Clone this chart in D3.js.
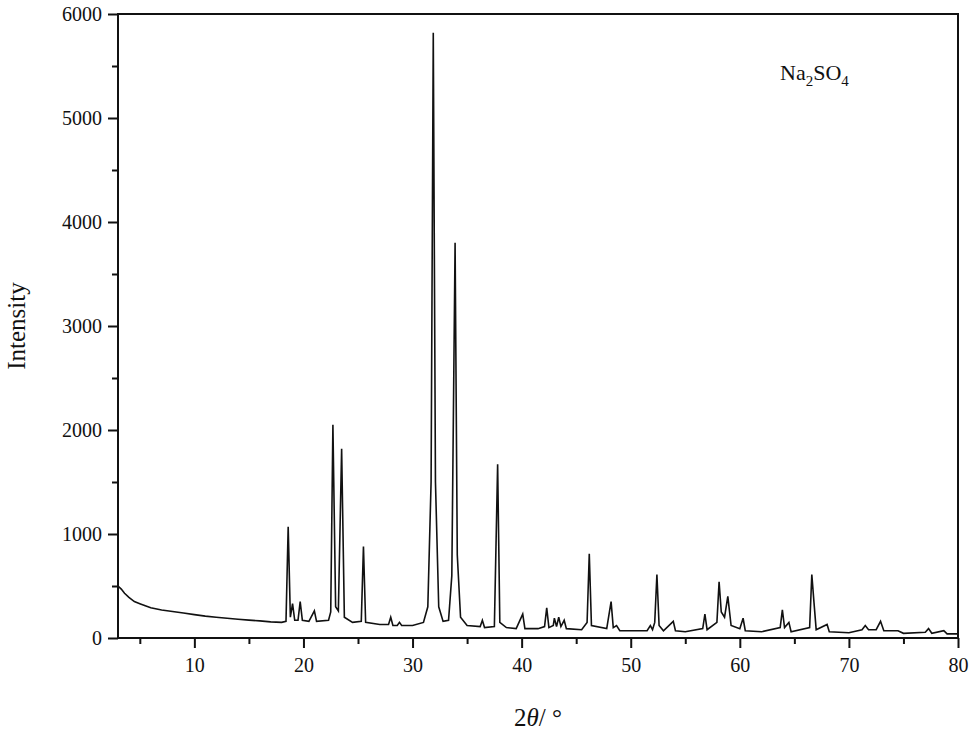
<!DOCTYPE html>
<html><head><meta charset="utf-8">
<script src="https://cdn.jsdelivr.net/npm/d3@7"></script>
<style>body{margin:0;background:#fff}svg text{font-family:'Liberation Serif','Times New Roman',serif !important;fill:#111}</style>
</head><body><svg id="c" width="971" height="734"></svg>
<script>
// XRD pattern: 2theta and intensity
var twoTheta = [3,3.3,3.6,4,4.5,5,5.5,6,7,8,9,10,11,12,13,14,15,16,17,18,18.4,18.6,18.8,19.0,19.2,19.5,19.7,19.9,20.5,21.0,21.2,22.3,22.5,22.7,22.95,23.2,23.5,23.75,24.5,25.3,25.5,25.7,27,27.8,28.0,28.2,28.6,28.8,29.0,30,31,31.4,31.7,31.9,32.1,32.4,32.8,33.3,33.6,33.9,34.1,34.4,35,36.2,36.4,36.6,37.5,37.8,38.0,38.6,39.5,40.1,40.3,41.5,42.1,42.3,42.5,42.9,43.0,43.2,43.4,43.6,43.9,44.1,45.5,46.0,46.2,46.4,47.8,48.2,48.4,48.7,49,51.5,51.8,52.0,52.2,52.4,52.6,53,53.9,54.1,55,56.6,56.8,57.0,57.9,58.1,58.3,58.6,58.9,59.2,60.0,60.3,60.5,62,63.7,63.9,64.1,64.5,64.7,66.4,66.6,66.8,67.0,68.0,68.2,70,71.2,71.5,71.8,72.5,72.9,73.2,74.5,75,77,77.3,77.6,78.7,79,80];
var intensity = [500,470,430,390,350,330,310,290,270,255,240,225,210,200,190,180,172,165,155,150,160,1070,200,330,170,170,350,170,160,260,160,170,250,2050,300,260,1820,200,150,160,880,150,130,130,200,120,120,150,120,120,150,300,1500,5820,1500,300,160,170,600,3800,800,200,120,110,170,100,110,1670,150,100,90,230,90,90,110,290,100,120,190,110,200,110,170,90,80,150,810,120,90,350,100,120,70,70,120,80,150,610,120,70,160,70,60,90,230,80,150,540,250,200,400,120,90,190,70,60,100,270,100,150,60,100,610,340,80,130,60,50,80,120,80,80,160,70,70,45,55,90,45,70,40,40];
var xTicks = [10,20,30,40,50,60,70,80];
var yTicks = [0,1000,2000,3000,4000,5000,6000];

var svg = d3.select("#c");
var L = 118, R = 958, T = 14, B = 638;
var x = d3.scaleLinear().domain([3, 80]).range([L, R]);
var y = d3.scaleLinear().domain([0, 6000]).range([B, T]);

svg.append("rect").attr("x", L).attr("y", T).attr("width", R - L).attr("height", B - T)
    .attr("fill", "none").attr("stroke", "#111").attr("stroke-width", 2);

svg.append("g").attr("transform", "translate(0," + B + ")")
    .call(d3.axisBottom(x).tickValues(xTicks).tickSize(10).tickPadding(10).tickFormat(d3.format("d")));
svg.append("g").attr("transform", "translate(0," + B + ")")
    .call(d3.axisBottom(x).tickValues(d3.range(5, 80, 10)).tickSize(6).tickFormat(""));
svg.append("g").attr("transform", "translate(" + L + ",0)")
    .call(d3.axisLeft(y).tickValues(yTicks).tickSize(10).tickPadding(6).tickFormat(d3.format("d")));
svg.append("g").attr("transform", "translate(" + L + ",0)")
    .call(d3.axisLeft(y).tickValues(d3.range(500, 6000, 1000)).tickSize(6).tickFormat(""));
svg.selectAll(".domain").remove();
svg.selectAll("g").attr("font-family", "'Liberation Serif', serif").attr("font-size", 20);
svg.selectAll(".tick line").attr("stroke", "#111").attr("stroke-width", 2);
svg.selectAll(".tick text").attr("fill", "#111");

var pts = twoTheta.map(function(t, i) { return [t, intensity[i]]; });
svg.append("path").datum(pts)
    .attr("fill", "none").attr("stroke", "#111").attr("stroke-width", 1.6)
    .attr("d", d3.line().x(function(d) { return x(d[0]); }).y(function(d) { return y(d[1]); }));

var lbl = svg.append("text").attr("x", 780).attr("y", 80).style("font-size", "22px");
lbl.append("tspan").text("Na");
lbl.append("tspan").attr("dy", 6).style("font-size", "15px").text("2");
lbl.append("tspan").attr("dy", -6).text("SO");
lbl.append("tspan").attr("dy", 6).style("font-size", "15px").text("4");

svg.append("text").attr("transform", "translate(25," + ((T + B) / 2) + ") rotate(-90)")
    .attr("text-anchor", "middle").style("font-size", "25px").text("Intensity");

var xl = svg.append("text").attr("x", 538).attr("y", 726).attr("text-anchor", "middle").style("font-size", "25px");
xl.append("tspan").text("2");
xl.append("tspan").style("font-style", "italic").text("θ");
xl.append("tspan").text("/ °");
</script></body></html>
